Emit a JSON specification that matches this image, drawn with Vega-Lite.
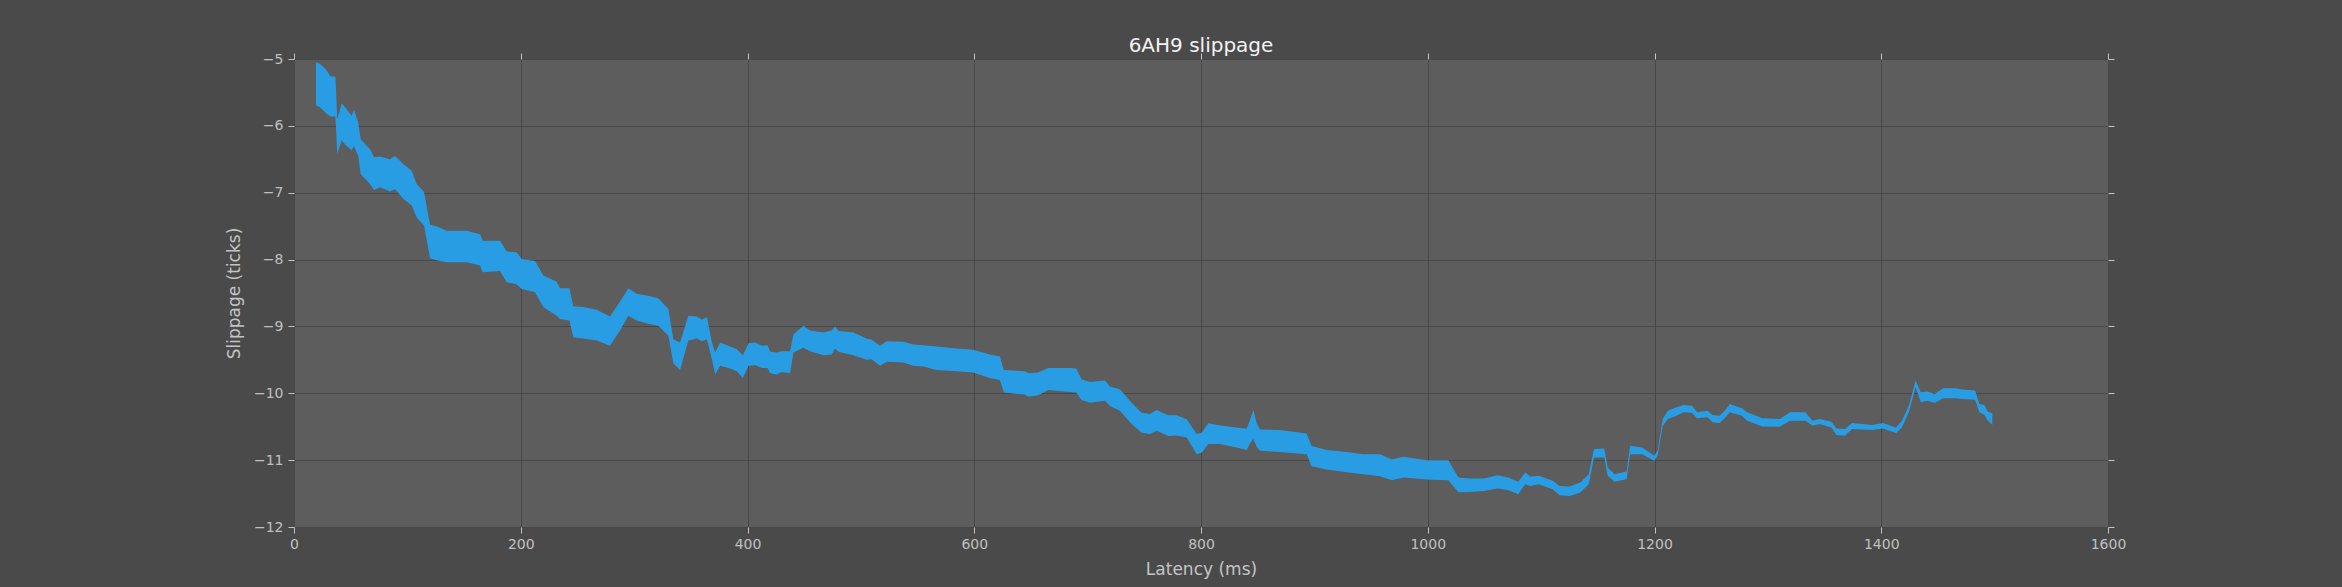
{
  "$schema": "https://vega.github.io/schema/vega-lite/v6.json",
  "width": 1814,
  "height": 468,
  "autosize": {"type": "none"},
  "padding": {"left": 294, "top": 59, "right": 234, "bottom": 60},
  "background": "#4a4a4a",
  "config": {
    "view": {"fill": "#5d5d5d", "stroke": null},
    "font": "DejaVu Sans",
    "axis": {
      "domain": false,
      "grid": true,
      "gridColor": "#484848",
      "gridWidth": 1,
      "tickColor": "#c4c4c4",
      "tickSize": 6,
      "tickWidth": 1,
      "labelColor": "#c0c0c0",
      "labelFont": "DejaVu Sans",
      "labelFontSize": 14,
      "labelFlush": false,
      "labelOverlap": false,
      "titleColor": "#c4c4c4",
      "titleFont": "DejaVu Sans",
      "titleFontSize": 17,
      "titleFontWeight": "normal"
    }
  },
  "title": {
    "text": "6AH9 slippage",
    "font": "DejaVu Sans",
    "fontSize": 20,
    "fontWeight": "normal",
    "color": "#f2f2f2",
    "anchor": "middle",
    "baseline": "alphabetic",
    "offset": -20
  },
  "data": {
    "values": [
      {"ms": 19.4, "hi": -5.05, "lo": -5.69},
      {"ms": 22.9, "hi": -5.07, "lo": -5.72},
      {"ms": 28.8, "hi": -5.17, "lo": -5.82},
      {"ms": 32.3, "hi": -5.26, "lo": -5.86},
      {"ms": 36.5, "hi": -5.26, "lo": -5.86},
      {"ms": 38.2, "hi": -5.9, "lo": -6.42},
      {"ms": 42.0, "hi": -5.66, "lo": -6.22},
      {"ms": 46.5, "hi": -5.75, "lo": -6.3},
      {"ms": 50.9, "hi": -5.85, "lo": -6.37},
      {"ms": 52.9, "hi": -5.76, "lo": -6.3},
      {"ms": 56.7, "hi": -5.95, "lo": -6.45},
      {"ms": 58.8, "hi": -6.2, "lo": -6.72},
      {"ms": 67.0, "hi": -6.35, "lo": -6.87},
      {"ms": 70.6, "hi": -6.47, "lo": -6.96},
      {"ms": 75.9, "hi": -6.46, "lo": -6.92},
      {"ms": 84.7, "hi": -6.5, "lo": -6.98},
      {"ms": 89.1, "hi": -6.45, "lo": -6.95},
      {"ms": 96.4, "hi": -6.57, "lo": -7.09},
      {"ms": 103.8, "hi": -6.67, "lo": -7.19},
      {"ms": 108.2, "hi": -6.87, "lo": -7.37},
      {"ms": 114.7, "hi": -6.99, "lo": -7.49},
      {"ms": 120.0, "hi": -7.48, "lo": -7.98},
      {"ms": 125.8, "hi": -7.5, "lo": -8.01},
      {"ms": 134.7, "hi": -7.57, "lo": -8.04},
      {"ms": 152.3, "hi": -7.57, "lo": -8.04},
      {"ms": 164.1, "hi": -7.62, "lo": -8.09},
      {"ms": 166.4, "hi": -7.72, "lo": -8.19},
      {"ms": 181.7, "hi": -7.72, "lo": -8.17},
      {"ms": 187.6, "hi": -7.88, "lo": -8.34},
      {"ms": 196.4, "hi": -7.89, "lo": -8.37},
      {"ms": 200.8, "hi": -7.99, "lo": -8.44},
      {"ms": 212.6, "hi": -8.02, "lo": -8.49},
      {"ms": 219.9, "hi": -8.24, "lo": -8.71},
      {"ms": 231.7, "hi": -8.33, "lo": -8.84},
      {"ms": 234.6, "hi": -8.43, "lo": -8.89},
      {"ms": 242.9, "hi": -8.43, "lo": -8.91},
      {"ms": 246.4, "hi": -8.7, "lo": -9.16},
      {"ms": 255.2, "hi": -8.71, "lo": -9.18},
      {"ms": 267.0, "hi": -8.75, "lo": -9.21},
      {"ms": 278.7, "hi": -8.85, "lo": -9.29},
      {"ms": 287.5, "hi": -8.63, "lo": -9.06},
      {"ms": 294.9, "hi": -8.43, "lo": -8.84},
      {"ms": 302.2, "hi": -8.51, "lo": -8.91},
      {"ms": 312.5, "hi": -8.54, "lo": -8.96},
      {"ms": 321.4, "hi": -8.58, "lo": -8.99},
      {"ms": 330.2, "hi": -8.74, "lo": -9.14},
      {"ms": 334.6, "hi": -9.19, "lo": -9.55},
      {"ms": 340.5, "hi": -9.24, "lo": -9.65},
      {"ms": 347.8, "hi": -8.84, "lo": -9.21},
      {"ms": 355.4, "hi": -8.85, "lo": -9.18},
      {"ms": 359.8, "hi": -8.9, "lo": -9.22},
      {"ms": 364.2, "hi": -8.86, "lo": -9.19},
      {"ms": 368.6, "hi": -9.24, "lo": -9.49},
      {"ms": 371.5, "hi": -9.39, "lo": -9.72},
      {"ms": 375.9, "hi": -9.24, "lo": -9.59},
      {"ms": 384.7, "hi": -9.3, "lo": -9.63},
      {"ms": 390.6, "hi": -9.34, "lo": -9.67},
      {"ms": 395.9, "hi": -9.43, "lo": -9.77},
      {"ms": 400.9, "hi": -9.25, "lo": -9.59},
      {"ms": 406.8, "hi": -9.24, "lo": -9.58},
      {"ms": 412.6, "hi": -9.29, "lo": -9.62},
      {"ms": 417.6, "hi": -9.28, "lo": -9.62},
      {"ms": 420.0, "hi": -9.38, "lo": -9.7},
      {"ms": 425.8, "hi": -9.39, "lo": -9.72},
      {"ms": 430.2, "hi": -9.37, "lo": -9.68},
      {"ms": 437.6, "hi": -9.37, "lo": -9.7},
      {"ms": 440.5, "hi": -9.12, "lo": -9.39},
      {"ms": 449.3, "hi": -8.99, "lo": -9.32},
      {"ms": 455.2, "hi": -9.06, "lo": -9.37},
      {"ms": 467.0, "hi": -9.09, "lo": -9.43},
      {"ms": 474.3, "hi": -9.06, "lo": -9.42},
      {"ms": 477.2, "hi": -9.0, "lo": -9.33},
      {"ms": 480.2, "hi": -9.07, "lo": -9.38},
      {"ms": 493.4, "hi": -9.09, "lo": -9.43},
      {"ms": 505.1, "hi": -9.18, "lo": -9.5},
      {"ms": 509.6, "hi": -9.2, "lo": -9.49},
      {"ms": 516.9, "hi": -9.29, "lo": -9.59},
      {"ms": 522.8, "hi": -9.22, "lo": -9.53},
      {"ms": 537.5, "hi": -9.23, "lo": -9.54},
      {"ms": 546.3, "hi": -9.27, "lo": -9.59},
      {"ms": 555.1, "hi": -9.28, "lo": -9.6},
      {"ms": 566.8, "hi": -9.3, "lo": -9.65},
      {"ms": 584.4, "hi": -9.33, "lo": -9.67},
      {"ms": 599.1, "hi": -9.35, "lo": -9.69},
      {"ms": 613.8, "hi": -9.42, "lo": -9.77},
      {"ms": 622.6, "hi": -9.45, "lo": -9.8},
      {"ms": 626.1, "hi": -9.65, "lo": -9.99},
      {"ms": 644.6, "hi": -9.67, "lo": -10.02},
      {"ms": 647.6, "hi": -9.7, "lo": -10.05},
      {"ms": 656.4, "hi": -9.69, "lo": -10.03},
      {"ms": 665.2, "hi": -9.62, "lo": -9.95},
      {"ms": 684.3, "hi": -9.62, "lo": -9.98},
      {"ms": 690.0, "hi": -9.63, "lo": -9.99},
      {"ms": 694.6, "hi": -9.79, "lo": -10.1},
      {"ms": 702.1, "hi": -9.83, "lo": -10.14},
      {"ms": 715.3, "hi": -9.81, "lo": -10.11},
      {"ms": 719.7, "hi": -9.9, "lo": -10.19},
      {"ms": 728.5, "hi": -9.94, "lo": -10.26},
      {"ms": 738.8, "hi": -10.14, "lo": -10.46},
      {"ms": 747.6, "hi": -10.29, "lo": -10.59},
      {"ms": 755.0, "hi": -10.31, "lo": -10.61},
      {"ms": 760.9, "hi": -10.25, "lo": -10.56},
      {"ms": 771.2, "hi": -10.33, "lo": -10.64},
      {"ms": 778.5, "hi": -10.33, "lo": -10.63},
      {"ms": 787.4, "hi": -10.39, "lo": -10.66},
      {"ms": 796.2, "hi": -10.61, "lo": -10.91},
      {"ms": 800.6, "hi": -10.59, "lo": -10.89},
      {"ms": 806.5, "hi": -10.45, "lo": -10.76},
      {"ms": 816.8, "hi": -10.48, "lo": -10.76},
      {"ms": 831.5, "hi": -10.51, "lo": -10.81},
      {"ms": 840.3, "hi": -10.53, "lo": -10.85},
      {"ms": 843.2, "hi": -10.4, "lo": -10.75},
      {"ms": 846.2, "hi": -10.25, "lo": -10.68},
      {"ms": 849.1, "hi": -10.45, "lo": -10.8},
      {"ms": 852.1, "hi": -10.54, "lo": -10.86},
      {"ms": 869.7, "hi": -10.55, "lo": -10.88},
      {"ms": 893.2, "hi": -10.6, "lo": -10.91},
      {"ms": 897.6, "hi": -10.79, "lo": -11.09},
      {"ms": 910.9, "hi": -10.85, "lo": -11.14},
      {"ms": 928.5, "hi": -10.88, "lo": -11.18},
      {"ms": 943.2, "hi": -10.91, "lo": -11.21},
      {"ms": 957.9, "hi": -10.91, "lo": -11.24},
      {"ms": 968.2, "hi": -10.99, "lo": -11.3},
      {"ms": 978.5, "hi": -10.95, "lo": -11.26},
      {"ms": 999.1, "hi": -11.0, "lo": -11.29},
      {"ms": 1018.2, "hi": -11.0, "lo": -11.3},
      {"ms": 1027.1, "hi": -11.26, "lo": -11.48},
      {"ms": 1037.3, "hi": -11.275, "lo": -11.475},
      {"ms": 1049.5, "hi": -11.275, "lo": -11.46},
      {"ms": 1061.6, "hi": -11.225, "lo": -11.425},
      {"ms": 1070.7, "hi": -11.26, "lo": -11.445},
      {"ms": 1079.8, "hi": -11.325, "lo": -11.51},
      {"ms": 1085.9, "hi": -11.185, "lo": -11.36},
      {"ms": 1090.4, "hi": -11.245, "lo": -11.385},
      {"ms": 1098.0, "hi": -11.235, "lo": -11.36},
      {"ms": 1110.2, "hi": -11.31, "lo": -11.435},
      {"ms": 1116.2, "hi": -11.385, "lo": -11.525},
      {"ms": 1125.3, "hi": -11.395, "lo": -11.535},
      {"ms": 1134.5, "hi": -11.335, "lo": -11.485},
      {"ms": 1142.0, "hi": -11.21, "lo": -11.36},
      {"ms": 1146.6, "hi": -10.835, "lo": -10.96},
      {"ms": 1155.7, "hi": -10.825, "lo": -10.96},
      {"ms": 1158.7, "hi": -11.11, "lo": -11.235},
      {"ms": 1164.8, "hi": -11.21, "lo": -11.325},
      {"ms": 1175.4, "hi": -11.17, "lo": -11.285},
      {"ms": 1178.5, "hi": -10.785, "lo": -10.91},
      {"ms": 1189.1, "hi": -10.81, "lo": -10.91},
      {"ms": 1199.7, "hi": -10.935, "lo": -11.01},
      {"ms": 1202.7, "hi": -10.86, "lo": -10.935},
      {"ms": 1207.3, "hi": -10.385, "lo": -10.485},
      {"ms": 1211.8, "hi": -10.26, "lo": -10.385},
      {"ms": 1219.4, "hi": -10.21, "lo": -10.335},
      {"ms": 1225.5, "hi": -10.175, "lo": -10.285},
      {"ms": 1233.1, "hi": -10.185, "lo": -10.295},
      {"ms": 1237.6, "hi": -10.285, "lo": -10.375},
      {"ms": 1246.7, "hi": -10.26, "lo": -10.36},
      {"ms": 1251.3, "hi": -10.325, "lo": -10.435},
      {"ms": 1257.4, "hi": -10.335, "lo": -10.445},
      {"ms": 1261.9, "hi": -10.26, "lo": -10.375},
      {"ms": 1266.5, "hi": -10.16, "lo": -10.285},
      {"ms": 1277.1, "hi": -10.225, "lo": -10.335},
      {"ms": 1281.6, "hi": -10.285, "lo": -10.41},
      {"ms": 1295.3, "hi": -10.375, "lo": -10.495},
      {"ms": 1310.5, "hi": -10.385, "lo": -10.5},
      {"ms": 1319.6, "hi": -10.285, "lo": -10.41},
      {"ms": 1333.2, "hi": -10.285, "lo": -10.41},
      {"ms": 1339.3, "hi": -10.41, "lo": -10.485},
      {"ms": 1345.4, "hi": -10.385, "lo": -10.46},
      {"ms": 1356.0, "hi": -10.425, "lo": -10.51},
      {"ms": 1360.5, "hi": -10.525, "lo": -10.625},
      {"ms": 1368.1, "hi": -10.535, "lo": -10.635},
      {"ms": 1374.2, "hi": -10.445, "lo": -10.535},
      {"ms": 1392.4, "hi": -10.475, "lo": -10.55},
      {"ms": 1401.5, "hi": -10.445, "lo": -10.525},
      {"ms": 1413.1, "hi": -10.51, "lo": -10.595},
      {"ms": 1418.2, "hi": -10.41, "lo": -10.51},
      {"ms": 1424.3, "hi": -10.185, "lo": -10.285},
      {"ms": 1430.3, "hi": -9.81, "lo": -9.91},
      {"ms": 1434.9, "hi": -9.985, "lo": -10.135},
      {"ms": 1441.0, "hi": -9.975, "lo": -10.11},
      {"ms": 1447.1, "hi": -10.01, "lo": -10.145},
      {"ms": 1454.6, "hi": -9.925, "lo": -10.075},
      {"ms": 1465.2, "hi": -9.925, "lo": -10.075},
      {"ms": 1471.3, "hi": -9.945, "lo": -10.085},
      {"ms": 1482.8, "hi": -9.96, "lo": -10.095},
      {"ms": 1486.5, "hi": -10.16, "lo": -10.285},
      {"ms": 1491.0, "hi": -10.175, "lo": -10.325},
      {"ms": 1494.1, "hi": -10.275, "lo": -10.41},
      {"ms": 1498.0, "hi": -10.3, "lo": -10.475}
    ]
  },
  "layer": [
    {
      "mark": {"type": "area", "color": "#299de3", "opacity": 1, "interpolate": "linear"},
      "encoding": {
        "x": {
          "field": "ms",
          "type": "quantitative",
          "scale": {"domain": [0, 1600], "nice": false, "zero": false},
          "axis": {
            "orient": "bottom",
            "values": [0, 200, 400, 600, 800, 1000, 1200, 1400, 1600],
            "format": "d",
            "title": "Latency (ms)",
            "labelPadding": 4,
            "titlePadding": 10
          }
        },
        "y": {
          "field": "hi",
          "type": "quantitative",
          "scale": {"domain": [-12, -5], "nice": false, "zero": false},
          "axis": {
            "orient": "left",
            "values": [-12, -11, -10, -9, -8, -7, -6, -5],
            "title": "Slippage (ticks)",
            "labelPadding": 5,
            "titlePadding": 10
          }
        },
        "y2": {"field": "lo"}
      }
    },
    {
      "mark": {"type": "area", "opacity": 0},
      "encoding": {
        "x": {
          "field": "ms",
          "type": "quantitative",
          "axis": {
            "orient": "top",
            "values": [0, 200, 400, 600, 800, 1000, 1200, 1400, 1600],
            "labels": false,
            "grid": false,
            "title": null
          }
        },
        "y": {
          "field": "hi",
          "type": "quantitative",
          "axis": {
            "orient": "right",
            "values": [-12, -11, -10, -9, -8, -7, -6, -5],
            "labels": false,
            "grid": false,
            "title": null
          }
        },
        "y2": {"field": "lo"}
      }
    }
  ],
  "resolve": {"axis": {"x": "independent", "y": "independent"}}
}
